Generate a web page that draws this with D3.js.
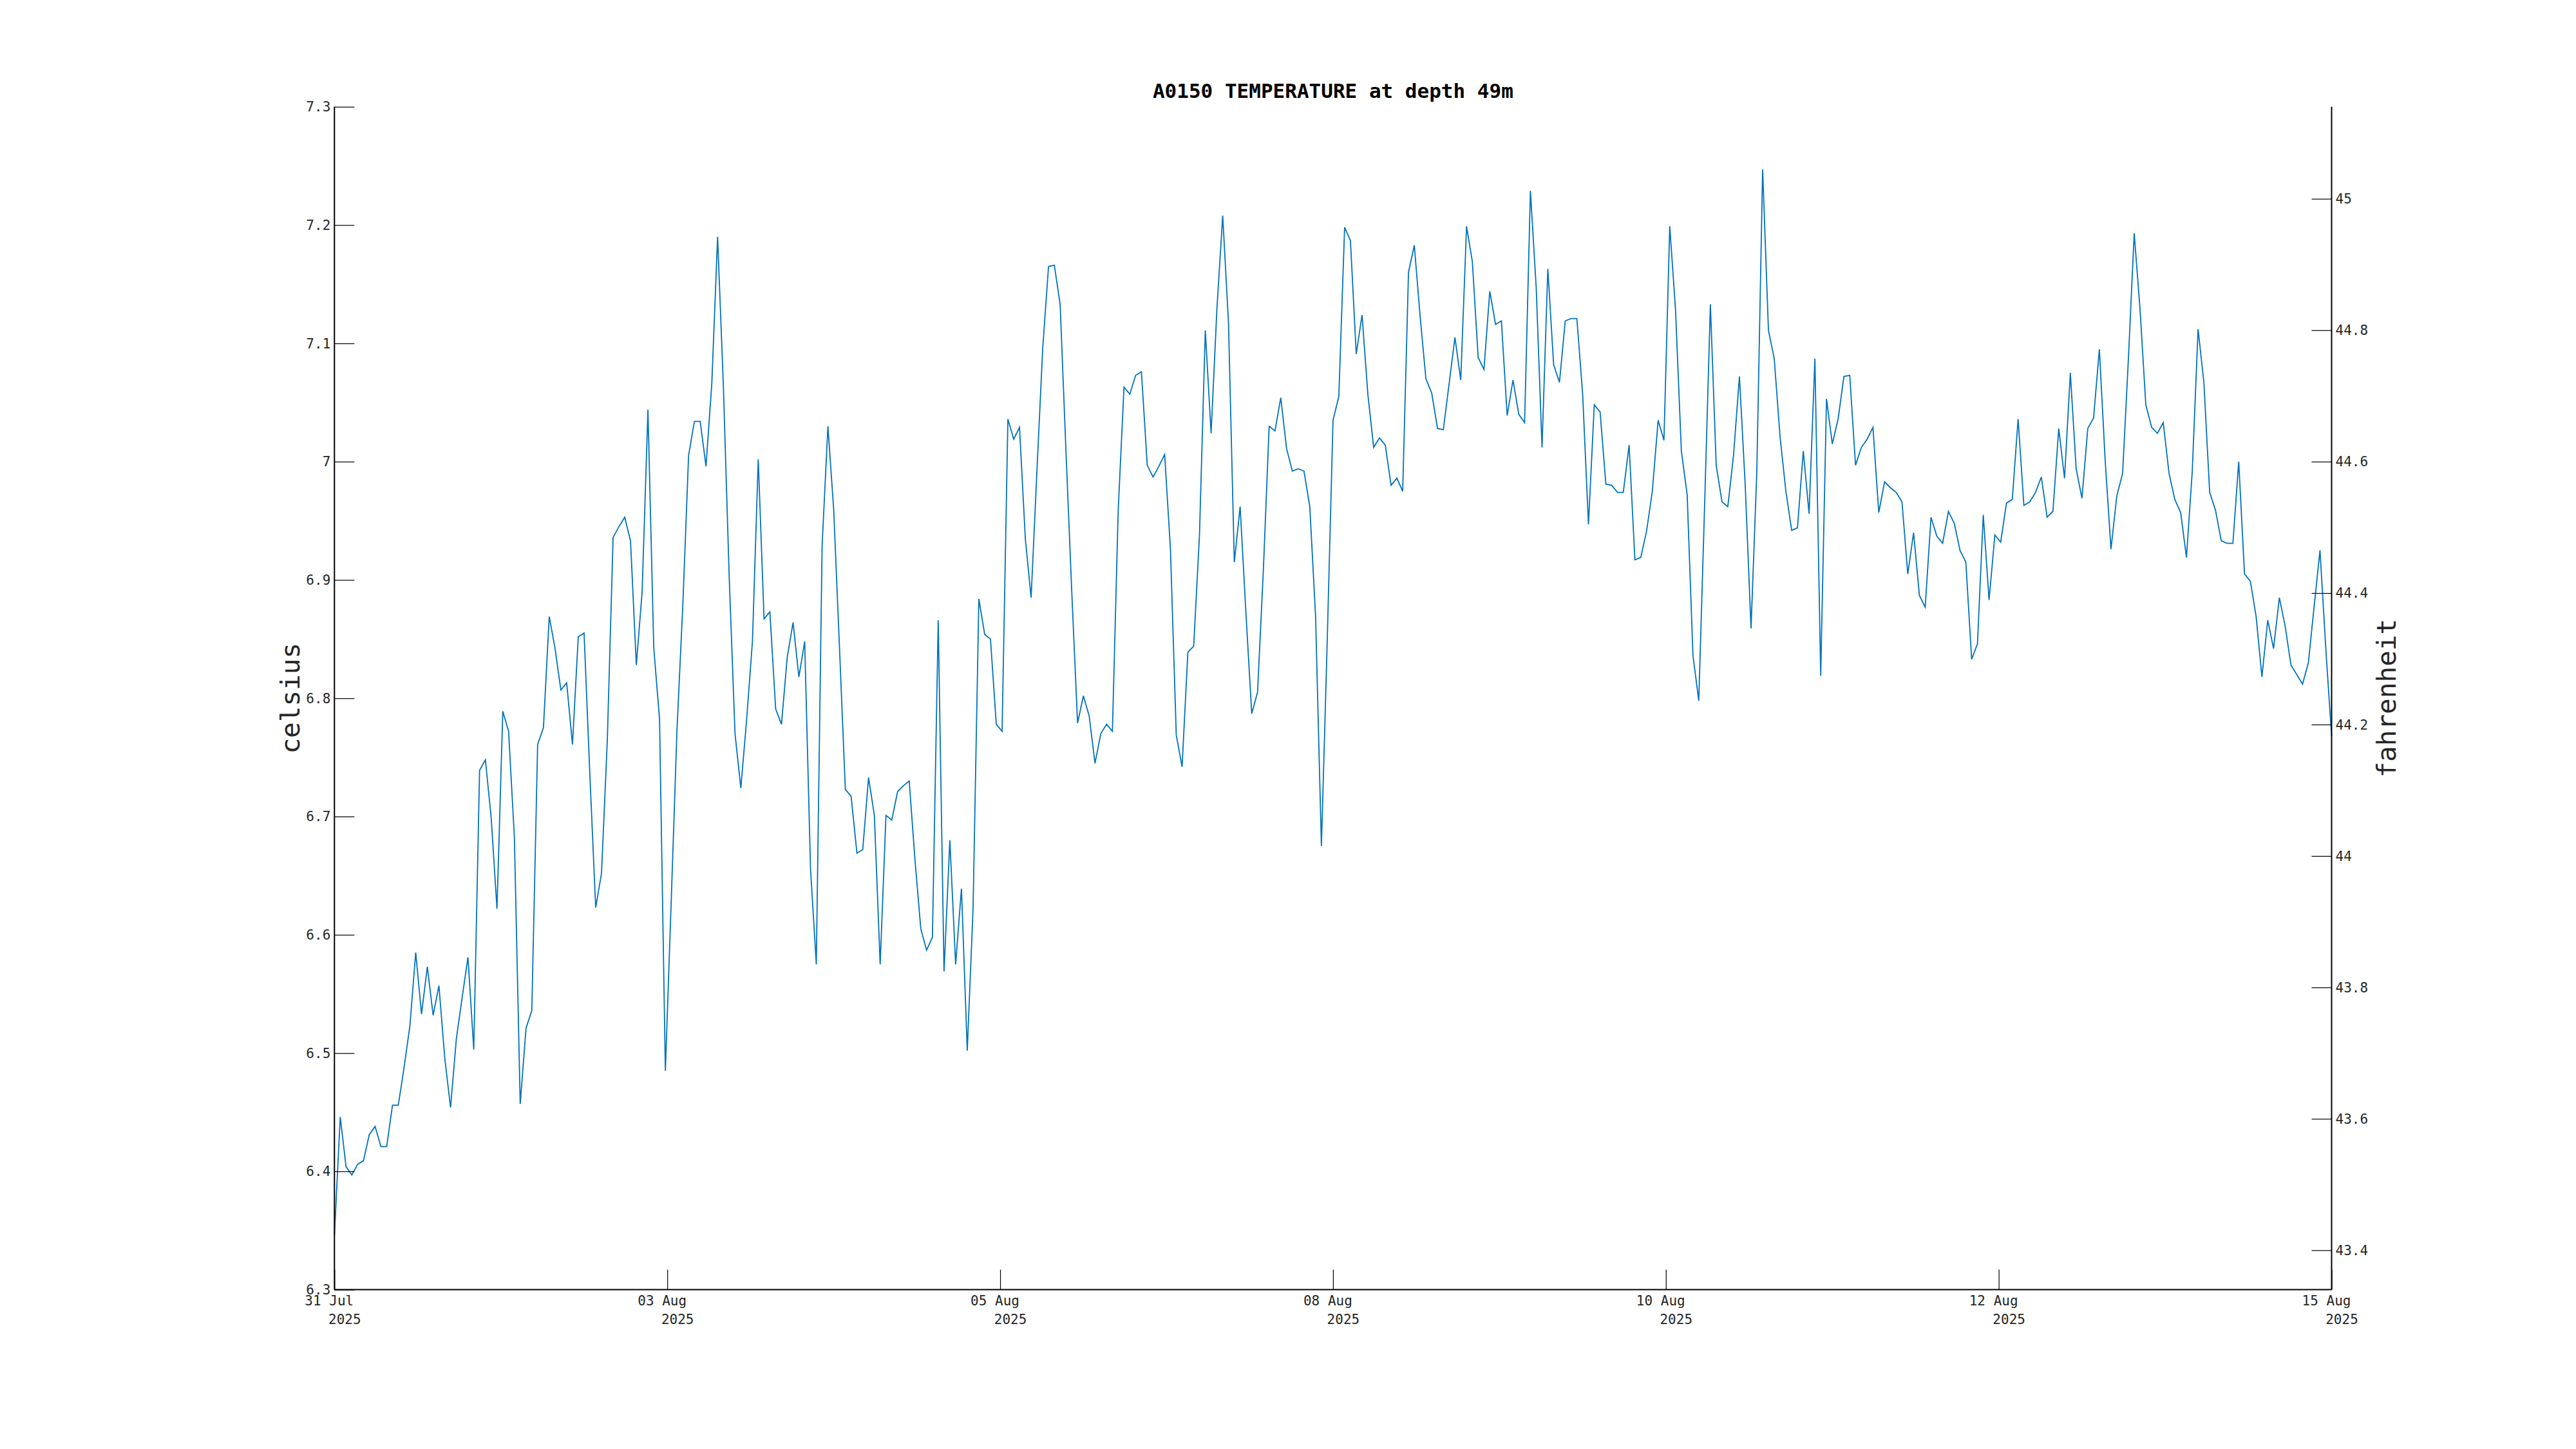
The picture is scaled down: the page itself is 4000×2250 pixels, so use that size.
<!DOCTYPE html>
<html>
<head>
<meta charset="utf-8">
<script src="https://cdn.jsdelivr.net/npm/d3@7"></script>
<style>
  html, body { margin: 0; padding: 0; background: #ffffff; }
  svg { display: block; }
</style>
</head>
<body>
<svg id="chart" width="4000" height="2250"></svg>
<script>
// ---------------- DATA ----------------
const titleText = "A0150 TEMPERATURE at depth 49m";
const leftLabel = "celsius";
const rightLabel = "fahrenheit";
// first sample time (UTC) and sampling step (hours)
const startTime = Date.UTC(2025, 6, 31, 21, 0, 0);
const stepHours = 1;
// hourly temperature, degrees Celsius
const tempC = [
  6.346, 6.446, 6.404, 6.397, 6.406, 6.409, 6.431, 6.438, 6.421, 6.421,
  6.456, 6.456, 6.488, 6.523, 6.585, 6.533, 6.573, 6.532, 6.557, 6.496,
  6.454, 6.512, 6.547, 6.581, 6.503, 6.739, 6.748, 6.699, 6.622, 6.789,
  6.772, 6.682, 6.457, 6.521, 6.536, 6.761, 6.775, 6.869,
  6.842, 6.807, 6.813, 6.761, 6.852, 6.855, 6.735, 6.623, 6.652, 6.764,
  6.936, 6.945, 6.953, 6.933, 6.828, 6.890, 7.044, 6.843, 6.782, 6.485,
  6.627, 6.773, 6.878, 7.005, 7.034, 7.034, 6.996, 7.066, 7.190, 7.063,
  6.902, 6.770, 6.724, 6.782, 6.848, 7.002, 6.867, 6.873, 6.791,
  6.778, 6.835, 6.864, 6.818, 6.848, 6.656, 6.575, 6.929, 7.030, 6.959,
  6.842, 6.723, 6.717, 6.669, 6.672, 6.733, 6.701, 6.575, 6.701, 6.697,
  6.721, 6.726, 6.730, 6.663, 6.605, 6.587, 6.598, 6.866, 6.569, 6.680,
  6.575, 6.639, 6.502, 6.622, 6.884, 6.854, 6.850, 6.778,
  6.772, 7.036, 7.019, 7.029, 6.935, 6.885, 6.992, 7.096, 7.165, 7.166,
  7.133, 7.009, 6.890, 6.779, 6.802, 6.785, 6.745, 6.770, 6.778, 6.772,
  6.959, 7.063, 7.057, 7.073, 7.076, 6.997, 6.987, 6.996, 7.006, 6.926,
  6.769, 6.742, 6.839, 6.844, 6.938, 7.111, 7.024, 7.129, 7.208,
  7.117, 6.915, 6.962, 6.872, 6.787, 6.805, 6.908, 7.030, 7.026, 7.054,
  7.011, 6.992, 6.994, 6.992, 6.962, 6.869, 6.675, 6.848, 7.035, 7.055,
  7.198, 7.187, 7.091, 7.124, 7.057, 7.012, 7.020, 7.014, 6.980, 6.986,
  6.975, 7.160, 7.183, 7.123, 7.070, 7.058, 7.028,
  7.027, 7.066, 7.105, 7.069, 7.199, 7.169, 7.088, 7.078, 7.144, 7.116,
  7.119, 7.039, 7.069, 7.040, 7.033, 7.229, 7.147, 7.012, 7.163, 7.082,
  7.067, 7.119, 7.121, 7.121, 7.057, 6.947, 7.048, 7.042, 6.981, 6.980,
  6.974, 6.974, 7.014, 6.917, 6.919, 6.941, 6.975, 7.035, 7.018,
  7.199, 7.128, 7.009, 6.972, 6.836, 6.798, 6.962, 7.133, 6.997, 6.966,
  6.962, 7.006, 7.072, 6.980, 6.859, 6.992, 7.247, 7.111, 7.087, 7.021,
  6.975, 6.942, 6.944, 7.009, 6.956, 7.087, 6.819, 7.053, 7.015, 7.036,
  7.072, 7.073, 6.997, 7.012, 7.019, 7.029, 6.957, 6.983,
  6.978, 6.974, 6.966, 6.905, 6.940, 6.887, 6.877, 6.953, 6.937, 6.931,
  6.958, 6.948, 6.925, 6.915, 6.833, 6.846, 6.955, 6.883, 6.938, 6.932,
  6.965, 6.968, 7.036, 6.963, 6.966, 6.974, 6.987, 6.953, 6.958, 7.028,
  6.986, 7.075, 6.994, 6.969, 7.028, 7.037, 7.095, 7.001,
  6.926, 6.971, 6.990, 7.087, 7.193, 7.129, 7.048, 7.029, 7.024, 7.033,
  6.990, 6.968, 6.957, 6.919, 6.992, 7.112, 7.067, 6.974, 6.959, 6.933,
  6.931, 6.931, 7.000, 6.905, 6.899, 6.869, 6.818, 6.866, 6.842, 6.885,
  6.861, 6.828, 6.820, 6.812, 6.830, 6.878, 6.925, 6.842, 6.768
];
const celsiusDomain = [6.3, 7.3];
const celsiusTicks = [6.3, 6.4, 6.5, 6.6, 6.7, 6.8, 6.9, 7.0, 7.1, 7.2, 7.3];
const fahrenheitTicks = [43.4, 43.6, 43.8, 44.0, 44.2, 44.4, 44.6, 44.8, 45.0];
const xTickCount = 7;

// ---------------- LAYOUT ----------------
const L = 519.3, R = 3620.5, T = 165.8, B = 2002.6;
const mono = "'DejaVu Sans Mono', monospace";
const txt = "#262626";
const lineColor = "#0072BD";
const tickLen = 31;

const times = tempC.map((v, i) => new Date(startTime + i * stepHours * 3600e3));
const data = tempC.map((v, i) => ({ t: times[i], v }));

const x = d3.scaleUtc().domain(d3.extent(times)).range([L, R]);
const y = d3.scaleLinear().domain(celsiusDomain).range([B, T]);
const toF = c => c * 9 / 5 + 32;
const yF = d3.scaleLinear().domain(celsiusDomain.map(toF)).range([B, T]);

const svg = d3.select("#chart");

// line
const line = d3.line().x(d => x(d.t)).y(d => y(d.v));
svg.append("path")
  .datum(data)
  .attr("d", line)
  .attr("fill", "none")
  .attr("stroke", lineColor)
  .attr("stroke-width", 1.8)
  .attr("stroke-linejoin", "miter");

const fmtNum = d => String(+d.toFixed(1));

// left axis
const leftAxis = d3.axisRight(y).tickValues(celsiusTicks).tickSize(tickLen).tickFormat("");
const gL = svg.append("g").attr("transform", `translate(${L},0)`).call(leftAxis);
gL.select(".domain").remove();
gL.selectAll(".tick line").attr("stroke", "#000").attr("stroke-width", 1.2);
svg.append("g").selectAll("text").data(celsiusTicks).join("text")
  .attr("x", L - 6).attr("y", d => y(d)).attr("dy", "0.36em")
  .attr("text-anchor", "end")
  .attr("font-family", mono).attr("font-size", 21).attr("fill", txt)
  .text(fmtNum);

// right axis
const rightAxis = d3.axisLeft(yF).tickValues(fahrenheitTicks).tickSize(tickLen).tickFormat("");
const gR = svg.append("g").attr("transform", `translate(${R},0)`).call(rightAxis);
gR.select(".domain").remove();
gR.selectAll(".tick line").attr("stroke", "#000").attr("stroke-width", 1.2);
svg.append("g").selectAll("text").data(fahrenheitTicks).join("text")
  .attr("x", R + 6).attr("y", d => yF(d)).attr("dy", "0.36em")
  .attr("text-anchor", "start")
  .attr("font-family", mono).attr("font-size", 21).attr("fill", txt)
  .text(fmtNum);

// bottom axis (ticks evenly spaced over the data span)
const [t0, t1] = x.domain();
const xTicks = d3.range(xTickCount).map(k => new Date(+t0 + k * (t1 - t0) / (xTickCount - 1)));
const bottomAxis = d3.axisTop(x).tickValues(xTicks).tickSize(tickLen).tickFormat("");
const gB = svg.append("g").attr("transform", `translate(0,${B})`).call(bottomAxis);
gB.select(".domain").remove();
gB.selectAll(".tick line").attr("stroke", "#000").attr("stroke-width", 1.2);
const fmtDay = d3.utcFormat("%d %b");
const fmtYear = d3.utcFormat("%Y");
const gBL = svg.append("g");
gBL.selectAll("text.d").data(xTicks).join("text").attr("class", "d")
  .attr("x", d => x(d) - 8).attr("y", 2027)
  .attr("text-anchor", "middle")
  .attr("font-family", mono).attr("font-size", 21).attr("fill", txt)
  .text(fmtDay);
gBL.selectAll("text.y").data(xTicks).join("text").attr("class", "y")
  .attr("x", d => x(d) + 16).attr("y", 2055.5)
  .attr("text-anchor", "middle")
  .attr("font-family", mono).attr("font-size", 21).attr("fill", txt)
  .text(fmtYear);

// axis lines
const axisG = svg.append("g").attr("stroke", "#000").attr("stroke-width", 2);
axisG.append("line").attr("x1", L).attr("x2", L).attr("y1", T).attr("y2", B);
axisG.append("line").attr("x1", R).attr("x2", R).attr("y1", T).attr("y2", B);
axisG.append("line").attr("x1", L).attr("x2", R).attr("y1", B).attr("y2", B);

// title
svg.append("text")
  .attr("x", (L + R) / 2).attr("y", 152)
  .attr("text-anchor", "middle")
  .attr("font-family", mono).attr("font-weight", "bold").attr("font-size", 31)
  .attr("fill", "#000")
  .text(titleText);

// axis labels
const midY = (T + B) / 2;
svg.append("text")
  .attr("transform", `translate(465,${midY}) rotate(-90)`)
  .attr("text-anchor", "middle")
  .attr("font-family", mono).attr("font-size", 41).attr("fill", txt)
  .text(leftLabel);
svg.append("text")
  .attr("transform", `translate(3720,${midY}) rotate(-90)`)
  .attr("text-anchor", "middle")
  .attr("font-family", mono).attr("font-size", 41).attr("fill", txt)
  .text(rightLabel);
</script>
</body>
</html>
